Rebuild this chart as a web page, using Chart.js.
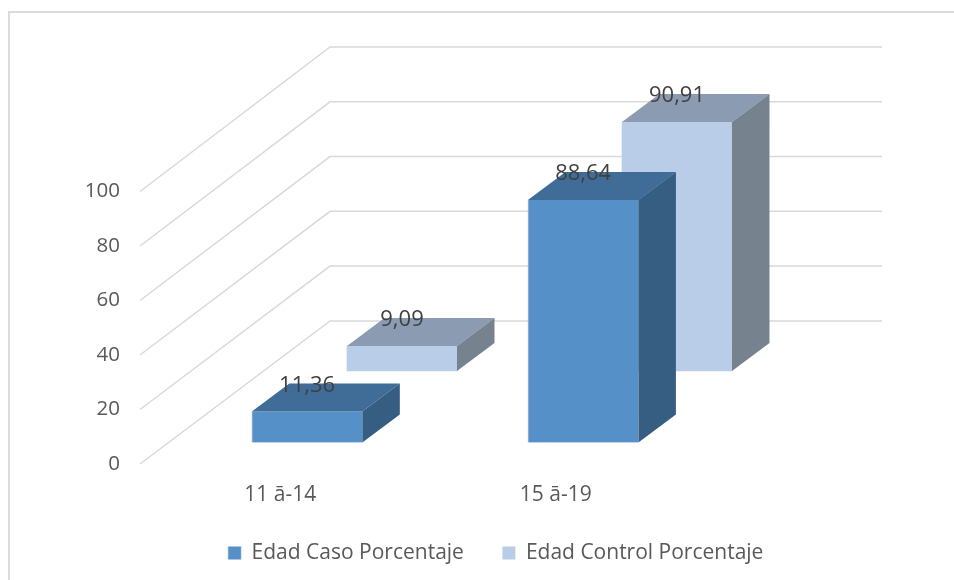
<!DOCTYPE html>
<html>
<head>
<meta charset="utf-8">
<style>
  html, body { margin: 0; padding: 0; background: #fff; }
  #frame { position: absolute; left: 8px; top: 11px; width: 946px; height: 569px; border-left: 2px solid #dcdcdc; border-top: 2px solid #dcdcdc; box-sizing: border-box; }
  canvas { position: absolute; left: 0; top: 0; }
</style>
<script src="https://cdn.jsdelivr.net/npm/chart.js@4"></script>
</head>
<body>
<div id="frame"></div>
<canvas id="edadChart" width="954" height="580"></canvas>
<script>
const categories = ["11 ā-14", "15 ā-19"];
const casoValues = [11.36, 88.64];
const controlValues = [9.09, 90.91];
const tickValues = [0, 20, 40, 60, 80, 100];

const FONT = "'Open Sans'";
const DEPTH_X = 37.5, DEPTH_Y = -28;   // how far a bar goes back

function face(ctx, pts, color) {
    ctx.fillStyle = color;
    ctx.beginPath();
    pts.forEach((p, i) => i ? ctx.lineTo(p[0], p[1]) : ctx.moveTo(p[0], p[1]));
    ctx.closePath();
    ctx.fill();
}

// Chart.js has no 3D bars, so the walls and the bar sides are added here
const bars3d = {
    id: "bars3d",
    afterLayout(chart) {
        // the legend sits right of the canvas centre in the original
        chart.legend.left += 24.75;
        chart.legend.right += 24.75;
    },
    beforeDatasetsDraw(chart) {
        const ctx = chart.ctx, front = chart.scales.y, wall = chart.scales.yWall;
        ctx.save();
        ctx.strokeStyle = "#d9d9d9";
        ctx.lineWidth = 1.5;
        tickValues.forEach(v => {
            ctx.beginPath();
            ctx.moveTo(chart.chartArea.left, front.getPixelForValue(v));
            ctx.lineTo(330, wall.getPixelForValue(v));
            ctx.lineTo(chart.chartArea.right, wall.getPixelForValue(v));
            ctx.stroke();
        });
        ctx.restore();
    },
    afterDatasetDraw(chart, args) {
        const ctx = chart.ctx, ds = chart.data.datasets[args.index];
        chart.getDatasetMeta(args.index).data.forEach(bar => {
            const l = bar.x - bar.width / 2, r = bar.x + bar.width / 2;
            face(ctx, [[l, bar.y], [r, bar.y], [r + DEPTH_X, bar.y + DEPTH_Y], [l + DEPTH_X, bar.y + DEPTH_Y]], ds.topColor);
            face(ctx, [[r, bar.y], [r + DEPTH_X, bar.y + DEPTH_Y], [r + DEPTH_X, bar.base + DEPTH_Y], [r, bar.base]], ds.sideColor);
        });
    },
    afterDatasetsDraw(chart) {
        const ctx = chart.ctx;
        ctx.save();
        ctx.font = "22px " + FONT;
        ctx.fillStyle = "#404040";
        ctx.textAlign = "center";
        ctx.textBaseline = "middle";
        chart.data.datasets.forEach((ds, i) => {
            chart.getDatasetMeta(i).data.forEach((bar, j) => {
                ctx.fillText(ds.data[j].y.toFixed(2).replace(".", ","), bar.x, bar.y - 26);
            });
        });
        ctx.restore();
    }
};

new Chart(document.getElementById("edadChart"), {
    type: "bar",
    data: {
        datasets: [
            {
                label: "Edad Caso Porcentaje",
                data: casoValues.map((v, i) => ({ x: i, y: v })),
                xAxisID: "xCaso",
                yAxisID: "yCaso",
                grouped: false,
                barThickness: 110.5,
                backgroundColor: "#5591c8",
                borderColor: "#a9c6e4",
                borderWidth: { left: 1, bottom: 1 },
                topColor: "#3f6d98",
                sideColor: "#365d82"
            },
            {
                label: "Edad Control Porcentaje",
                data: controlValues.map((v, i) => ({ x: i, y: v })),
                xAxisID: "xControl",
                yAxisID: "yControl",
                grouped: false,
                barThickness: 110,
                backgroundColor: "#b9cde8",
                topColor: "#8b9bb2",
                sideColor: "#76838f"
            }
        ]
    },
    options: {
        responsive: false,
        animation: false,
        layout: { padding: { left: 60, right: 72, top: 47, bottom: 6.5 } },
        plugins: {
            tooltip: { enabled: false },
            legend: {
                position: "bottom",
                labels: {
                    boxWidth: 13,
                    boxHeight: 13,
                    padding: 38.5,
                    color: "#595959",
                    font: { family: FONT, size: 21 }
                }
            }
        },
        scales: {
            x: {
                type: "linear",
                offset: false,
                min: -0.509,
                max: 2.184,
                grid: { display: false },
                border: { display: false },
                afterFit: s => { s.height = 40; },
                afterBuildTicks: s => { s.ticks = categories.map((c, i) => ({ value: i })); },
                ticks: {
                    callback: v => categories[v],
                    maxRotation: 0,
                    padding: 10,
                    color: "#595959",
                    font: { family: FONT, size: 21 }
                }
            },
            y: {
                position: "left",
                min: 0,
                max: 153.03,
                grid: { display: false },
                border: { display: false },
                afterFit: s => { s.width = 80; },
                afterBuildTicks: s => { s.ticks = tickValues.map(v => ({ value: v })); },
                ticks: {
                    padding: 12,
                    color: "#595959",
                    font: { family: FONT, size: 20.5 }
                }
            },
            xCaso: { type: "linear", display: false, offset: false, min: -0.6051, max: 2.0824 },
            xControl: { type: "linear", display: false, offset: false, min: -0.9527, max: 1.7455 },
            yCaso: { display: false, min: -7.86, max: 144.55 },
            yControl: { display: false, min: -33.95, max: 118.3 },
            yWall: { display: false, min: -52.25, max: 100 }
        }
    },
    plugins: [bars3d]
});
</script>
</body>
</html>
